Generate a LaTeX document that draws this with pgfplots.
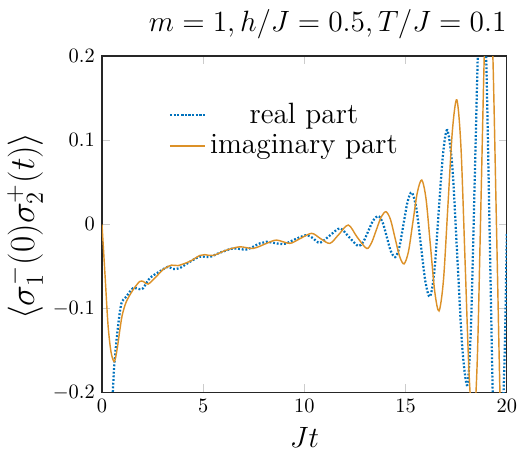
\documentclass[border=0pt]{standalone}
\usepackage{pgfplots}
\pgfplotsset{compat=1.18}

\definecolor{realblue}{RGB}{0,114,189}
\definecolor{imagorange}{RGB}{220,145,40}
\definecolor{axisgray}{rgb}{0.15,0.15,0.15}
\definecolor{tickgray}{rgb}{0.80,0.80,0.80}

\begin{document}
\begin{tikzpicture}
\begin{axis}[
  scale only axis,
  width=198.5pt, height=165pt,
  xmin=0, xmax=20, ymin=-0.2, ymax=0.2,
  xtick={0,5,10,15,20},
  ytick={-0.2,-0.1,0,0.1,0.2},
  tick align=inside,
  major tick length=4pt,
  tick style={color=tickgray, line width=0.6pt},
  axis line style={color=axisgray, line width=0.6pt},
  xlabel={$Jt$},
  ylabel={$\langle\sigma_1^-(0)\sigma_2^+(t)\rangle$},
  xlabel style={font=\Large},
  ylabel style={font=\LARGE, at={(ticklabel cs:0.495,-2pt)}},
  title={$m=1, h/J=0.5, T/J=0.1$},
  title style={font=\Large, at={(rel axis cs:1,1)}, anchor=base east, yshift=6pt, inner sep=0pt},
  legend style={font=\Large, draw=none, fill=none, at={(rel axis cs:0.453,0.78)}, anchor=center, row sep=0pt},
  legend cell align=center,
  clip=true,
]
% real part
\addplot[realblue, line width=1.1pt, dash pattern=on 0.9pt off 0.9pt, smooth, tension=0.5] coordinates {
(0,-0.50) (0.3,-0.32) (0.54,-0.197) (0.63,-0.161) (0.79,-0.122) (0.96,-0.094)
(1.2,-0.086) (1.53,-0.076) (1.86,-0.077) (2.03,-0.076) (2.36,-0.064) (2.85,-0.056)
(3.26,-0.0505) (3.51,-0.053) (3.84,-0.052) (4.34,-0.0445) (4.83,-0.0385) (5.33,-0.0386)
(5.82,-0.0338) (6.48,-0.0286) (7.14,-0.0298) (7.8,-0.0226) (8.13,-0.0207) (8.95,-0.0235)
(9.45,-0.0187) (10.1,-0.0127) (10.45,-0.017) (10.77,-0.022) (11.27,-0.013) (11.76,-0.0048)
(12.2,-0.015) (12.66,-0.0258) (12.91,-0.0207) (13.155,-0.008) (13.40,0.0047) (13.65,0.0099)
(13.86,0.0027) (14.065,-0.0146) (14.27,-0.0319) (14.48,-0.039) (14.685,-0.0277) (14.89,-0.0005)
(15.095,0.0267) (15.3,0.038) (15.525,0.0198) (15.75,-0.024) (15.975,-0.0678) (16.2,-0.086)
(16.415,-0.057) (16.63,0.013) (16.845,0.083) (17.06,0.112) (17.31,0.0676) (17.555,-0.0395)
(17.80,-0.1466) (18.05,-0.191) (18.23,-0.119) (18.415,0.0545) (18.60,0.228) (18.78,0.30)
(18.97,0.208) (19.155,-0.015) (19.34,-0.238) (19.53,-0.33) (19.72,-0.27) (19.85,-0.19)
(19.93,-0.11) (20,-0.01)
};
\addlegendentry{real part}
% imaginary part
\addplot[imagorange, line width=0.7pt, smooth, tension=0.5] coordinates {
(0,0) (0.15,-0.06) (0.3,-0.12) (0.45,-0.152) (0.61,-0.163) (0.75,-0.148) (0.88,-0.126)
(1.0,-0.108) (1.2,-0.092) (1.53,-0.078) (1.86,-0.068) (2.05,-0.068) (2.28,-0.071)
(2.69,-0.062) (3.0,-0.054) (3.43,-0.0485) (3.76,-0.049) (4.34,-0.044) (4.83,-0.037)
(5.08,-0.036) (5.49,-0.037) (6.15,-0.0306) (6.81,-0.0267) (7.47,-0.0286) (8.13,-0.0226)
(8.62,-0.0187) (9.28,-0.0226) (9.78,-0.017) (10.36,-0.0107) (10.8,-0.017) (11.26,-0.0226)
(11.7,-0.012) (12.17,-0.0008) (12.6,-0.015) (13.07,-0.0286) (13.31,-0.0222) (13.55,-0.0068)
(13.79,0.0086) (14.03,0.015) (14.25,0.0059) (14.475,-0.016) (14.70,-0.0379) (14.92,-0.047)
(15.14,-0.0324) (15.36,0.0029) (15.58,0.0381) (15.8,0.0527) (16.01,0.0299) (16.225,-0.0252)
(16.44,-0.0802) (16.65,-0.103) (16.87,-0.0662) (17.09,0.0225) (17.31,0.1112) (17.53,0.148)
(17.735,0.091) (17.94,-0.046) (18.145,-0.183) (18.35,-0.24) (18.54,-0.161) (18.725,0.03)
(18.91,0.221) (19.1,0.30) (19.3,0.208) (19.5,-0.015) (19.7,-0.238) (19.9,-0.33) (20,-0.30)
};
\addlegendentry{imaginary part}
\end{axis}
% margins around the axis box
\path ([xshift=-50pt, yshift=-31.5pt]current axis.south west);
\path ([xshift=8.9pt, yshift=27.5pt]current axis.north east);
\end{tikzpicture}
\end{document}
